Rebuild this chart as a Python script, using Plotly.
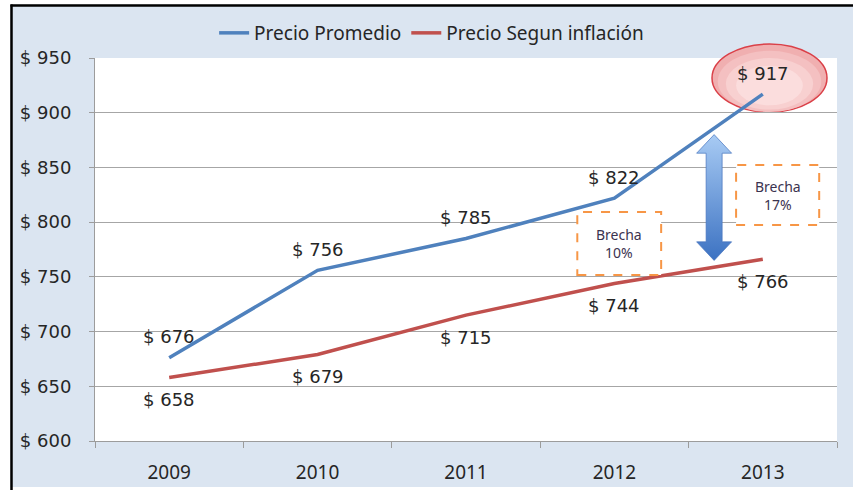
import plotly.graph_objects as go

# ---- data ----
years = ["2009", "2010", "2011", "2012", "2013"]
precio_promedio = [676, 756, 785, 822, 917]
precio_inflacion = [658, 679, 715, 744, 766]
brecha_labels = ["Brecha<br>10%", "Brecha<br>17%"]

BLUE = "#4F81BD"
RED = "#C0504D"
ORANGE = "#F79646"
BG = "#DBE5F1"
TXT = "#262626"

W, H = 853, 490
ML, MR, MT, MB = 95, 16, 58, 49
PW, PH = W - ML - MR, H - MT - MB


def px_x(x):
    return (x - ML) / PW


def px_y(y):
    return 1 - (y - MT) / PH


xi = list(range(len(years)))

fig = go.Figure()

fig.add_trace(go.Scatter(
    x=xi, y=precio_promedio, mode="lines", name="Precio Promedio",
    line=dict(color=BLUE, width=3.5), hoverinfo="x+y",
))
fig.add_trace(go.Scatter(
    x=xi, y=precio_inflacion, mode="lines", name="Precio Segun inflación",
    line=dict(color=RED, width=3.5), hoverinfo="x+y",
))

# double-headed arrow between the two series in the last year
ax_c, shaft, head = 3.672, 0.054, 0.118
top_tip, top_base = 880, 863
bot_tip, bot_base = 765, 782
arrow_x = [ax_c, ax_c + head, ax_c + shaft, ax_c + shaft, ax_c + head, ax_c,
           ax_c - head, ax_c - shaft, ax_c - shaft, ax_c - head, ax_c]
arrow_y = [top_tip, top_base, top_base, bot_base, bot_base, bot_tip,
           bot_base, bot_base, top_base, top_base, top_tip]
fig.add_trace(go.Scatter(
    x=arrow_x, y=arrow_y, mode="lines", fill="toself",
    line=dict(color="rgba(70,115,190,0.7)", width=1),
    fillgradient=dict(type="vertical", start=bot_tip, stop=top_tip,
                      colorscale=[[0, "#3C72C2"], [1, "#A8CBF4"]]),
    showlegend=False, hoverinfo="skip",
))

annotations = []
for i, v in enumerate(precio_promedio):
    annotations.append(dict(x=i, y=v, text=f"$ {v}", showarrow=False, yshift=21,
                            font=dict(family="DejaVu Sans", size=18, color=TXT)))
for i, v in enumerate(precio_inflacion):
    annotations.append(dict(x=i, y=v, text=f"$ {v}", showarrow=False, yshift=-22,
                            font=dict(family="DejaVu Sans", size=18, color=TXT)))

shapes = []

# frame: white margins with a black edge on the top and left, white plot area
shapes += [
    dict(type="rect", xref="paper", yref="paper", x0=0, x1=1, y0=0, y1=1,
         fillcolor="white", line=dict(width=0), layer="below"),
    dict(type="rect", xref="paper", yref="paper", x0=px_x(0), x1=px_x(10.5),
         y0=px_y(H), y1=px_y(0), fillcolor="white", line=dict(width=0), layer="below"),
    dict(type="rect", xref="paper", yref="paper", x0=px_x(0), x1=px_x(W),
         y0=px_y(4.5), y1=px_y(0), fillcolor="white", line=dict(width=0), layer="below"),
    dict(type="rect", xref="paper", yref="paper", x0=px_x(0), x1=px_x(W),
         y0=px_y(H), y1=px_y(487), fillcolor="white", line=dict(width=0), layer="below"),
    dict(type="line", xref="paper", yref="paper", x0=px_x(11.5), x1=px_x(11.5),
         y0=px_y(H), y1=px_y(4.5), line=dict(color="black", width=2.5), layer="below"),
    dict(type="line", xref="paper", yref="paper", x0=px_x(10.5), x1=px_x(W),
         y0=px_y(5.5), y1=px_y(5.5), line=dict(color="black", width=2.5), layer="below"),
]

# highlight ellipse around the last value
cx, cy = px_x(769.5), px_y(78)
rx, ry = 57.5 / PW, 34 / PH
rings = [(1.0, 0.0, "#F0AFB0", "#DA4048", 1.5),
         (0.90, 0.10, "#F4C0C1", None, 0),
         (0.76, 0.17, "#F8D0D0", None, 0),
         (0.58, 0.22, "#FBDDDD", None, 0)]
for s, dy, fc, lc, lw in rings:
    ccy = cy - dy * ry
    shapes.append(dict(type="circle", xref="paper", yref="paper",
                       x0=cx - rx * s, x1=cx + rx * s, y0=ccy - ry * s, y1=ccy + ry * s,
                       fillcolor=fc, line=dict(color=lc or fc, width=lw),
                       layer="below"))

# dashed "Brecha" boxes
boxes = [(2.75, 3.315, 751.6, 809.2), (3.82, 4.38, 797.4, 852.2)]
for (x0, x1, y0, y1), lab in zip(boxes, brecha_labels):
    shapes.append(dict(type="rect", xref="x", yref="y", x0=x0, x1=x1, y0=y0, y1=y1,
                       line=dict(color=ORANGE, width=2, dash="dash"),
                       fillcolor="white", layer="above"))
    annotations.append(dict(x=(x0 + x1) / 2, y=(y0 + y1) / 2, text=lab, showarrow=False,
                            font=dict(family="Noto Sans", size=14, color="#3B3350")))

fig.update_layout(
    width=W, height=H,
    margin=dict(l=ML, r=MR, t=MT, b=MB, pad=0, autoexpand=False),
    paper_bgcolor=BG, plot_bgcolor="rgba(0,0,0,0)",
    showlegend=True,
    legend=dict(orientation="h", xref="container", yref="container",
                x=0.506, y=1 - 33 / H, xanchor="center", yanchor="middle",
                bgcolor="rgba(0,0,0,0)", itemwidth=30, tracegroupgap=0,
                font=dict(family="Noto Sans", size=19, color=TXT)),
    shapes=shapes,
    annotations=annotations,
    xaxis=dict(
        range=[-0.5, 4.5], tickmode="array", tickvals=xi, ticktext=years,
        ticks="", showgrid=False, zeroline=False,
        showline=True, linecolor="#9C9C9C", linewidth=1,
        ticklabelstandoff=14,
        tickfont=dict(family="Noto Sans", size=19, color=TXT),
        minor=dict(tickmode="array", tickvals=[-0.5, 0.5, 1.5, 2.5, 3.5, 4.5],
                   ticks="outside", ticklen=6, tickcolor="#9C9C9C", tickwidth=1,
                   showgrid=False),
    ),
    yaxis=dict(
        range=[600, 950], tick0=600, dtick=50, tickprefix="$ ",
        showgrid=True, gridcolor="#A6A6A6", gridwidth=1, zeroline=False,
        showline=True, linecolor="#9C9C9C", linewidth=1,
        ticks="outside", ticklen=5, tickcolor="#9C9C9C",
        ticklabelstandoff=14,
        tickfont=dict(family="DejaVu Sans", size=18, color=TXT),
    ),
)

fig.write_html("out.html")
